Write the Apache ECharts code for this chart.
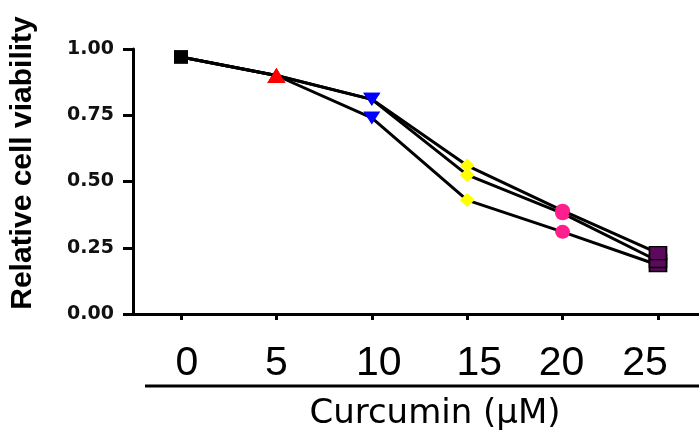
<!DOCTYPE html>
<html>
<head>
<meta charset="utf-8">
<script src="https://cdn.jsdelivr.net/npm/echarts@6/dist/echarts.min.js"></script>
<style>
html,body{margin:0;padding:0;background:#fff;}
#chart{width:699px;height:439px;}
</style>
</head>
<body>
<div id="chart"></div>
<script>
// ---- data ----
const xValues = [0, 5, 10, 15, 20, 25];
const xTickLabels = ['0', '5', '10', '15', '20', '25'];
const seriesA = [0.97, 0.90, 0.81, 0.56, 0.39, 0.23];
const seriesB = [0.97, 0.90, 0.81, 0.525, 0.38, 0.20];
const seriesC = [0.97, 0.90, 0.74, 0.43, 0.31, 0.185];
const xTitle = 'Curcumin (μM)';
const yTitle = 'Relative cell viability';

// ---- styles ----
const markerStyles = [
  { symbol: 'rect', size: [14, 13], rotate: 0, color: '#000000', border: '#000000' },
  { symbol: 'triangle', size: [18, 15], rotate: 0, color: '#ff0000', border: '#ff0000' },
  { symbol: 'triangle', size: [17, 13], rotate: 180, color: '#0000ff', border: '#0000ff' },
  { symbol: 'diamond', size: [15, 14], rotate: 0, color: '#ffff00', border: '#ffff00' },
  { symbol: 'circle', size: [15, 14], rotate: 0, color: '#ff1f8c', border: '#ff1f8c' },
  { symbol: 'rect', size: [17, 13], rotate: 0, color: '#5c0a5c', border: '#000000' }
];
const labelShift = [6, 0, 7, 12, -1, -13];

const rich = {};
labelShift.forEach((d, i) => {
  rich['l' + i] = {
    fontFamily: '"Liberation Sans Narrow", "Liberation Sans", sans-serif',
    fontSize: 41,
    color: '#000',
    padding: d >= 0 ? [0, 0, 0, 2 * d] : [0, -2 * d, 0, 0]
  };
});

function buildSeries(vals, z) {
  return {
    type: 'line',
    z: z,
    data: vals.map((v, i) => {
      const m = markerStyles[i];
      return {
        value: [xValues[i], v],
        symbol: m.symbol,
        symbolSize: m.size,
        symbolRotate: m.rotate,
        itemStyle: { color: m.color, borderColor: m.border, borderWidth: m.border === m.color ? 0 : 1.5, opacity: 1 }
      };
    }),
    lineStyle: { color: '#000', width: 3, join: 'round' },
    showAllSymbol: true,
    animation: false,
    emphasis: { disabled: true }
  };
}

const chart = echarts.init(document.getElementById('chart'), null, { renderer: 'canvas' });
chart.setOption({
  backgroundColor: '#fff',
  animation: false,
  grid: { left: 133, right: 0, top: 49, bottom: 125, containLabel: false, outerBoundsMode: 'none' },
  xAxis: {
    type: 'value',
    min: -2.516,
    max: 27.15,
    splitLine: { show: false },
    axisLine: { show: true, onZero: false, lineStyle: { color: '#000', width: 3 } },
    axisTick: { show: true, length: 6, lineStyle: { color: '#000', width: 3 }, customValues: xValues },
    axisLabel: {
      customValues: xValues,
      margin: 29,
      formatter: function (v) {
        const i = xValues.indexOf(v);
        return '{l' + i + '|' + xTickLabels[i] + '}';
      },
      rich: rich
    }
  },
  yAxis: {
    type: 'value',
    min: 0,
    max: 1,
    interval: 0.25,
    splitLine: { show: false },
    axisLine: { show: true, onZero: false, lineStyle: { color: '#000', width: 3 } },
    axisTick: { show: true, length: 10, lineStyle: { color: '#000', width: 3 } },
    axisLabel: {
      margin: 19,
      formatter: v => v.toFixed(2),
      fontFamily: '"DejaVu Sans", sans-serif',
      fontWeight: 'bold',
      fontSize: 19,
      color: '#111'
    }
  },
  graphic: [
    {
      type: 'line',
      shape: { x1: 145, y1: 386, x2: 699, y2: 386 },
      style: { stroke: '#000', lineWidth: 3 }
    },
    {
      type: 'text',
      x: 435, y: 414,
      style: {
        text: xTitle,
        align: 'center', verticalAlign: 'middle',
        font: '34px "DejaVu Sans", sans-serif',
        fill: '#000'
      }
    },
    {
      type: 'text',
      x: 23, y: 163,
      rotation: Math.PI / 2,
      style: {
        text: yTitle,
        align: 'center', verticalAlign: 'middle',
        font: 'bold 30px "Liberation Sans", Arial, sans-serif',
        fill: '#000'
      }
    }
  ],
  series: [buildSeries(seriesC, 2), buildSeries(seriesB, 3), buildSeries(seriesA, 4)]
});
</script>
</body>
</html>
